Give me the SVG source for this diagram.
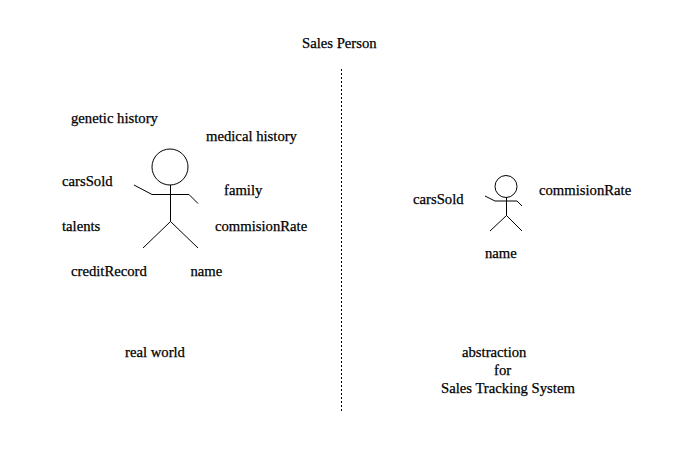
<svg xmlns="http://www.w3.org/2000/svg" width="677" height="474" viewBox="0 0 677 474">
<style>
  text { font-family: "Liberation Serif", "Times New Roman", serif; font-size: 14.7px; fill: #000; stroke: #000; stroke-width: 0.25px; }
  .fig { fill: none; stroke: #000; stroke-width: 1; }
</style>
<rect width="677" height="474" fill="#fff"/>
<g id="connectors">
  <!-- divider between the two columns -->
  <line x1="341.5" y1="69" x2="341.5" y2="411" stroke="#000" stroke-width="1" stroke-dasharray="2 2"/>
</g>
<g id="title"><text x="302" y="48">Sales Person</text></g>
<g id="real-figure">
  <circle class="fig" cx="170" cy="167" r="18"/>
  <path class="fig" d="M170.500 185V221.500M134 185L152 194.500H189L198 203.500M143 248L170.500 221.500L198 248"/>
</g>
<g id="real-labels">
  <text x="71" y="123">genetic history</text>
  <text x="206" y="141">medical history</text>
  <text x="62" y="186">carsSold</text>
  <text x="224" y="195">family</text>
  <text x="62" y="231">talents</text>
  <text x="215" y="231">commisionRate</text>
  <text x="71" y="276">creditRecord</text>
  <text x="190.500" y="276">name</text>
  <text x="125" y="357">real world</text>
</g>
<g id="abstract-figure">
  <circle class="fig" cx="506" cy="186.500" r="11"/>
  <path class="fig" d="M506.500 197.500V215.500M485 196L495 201H517L522 206M490 231L506.500 215.500L522 231"/>
</g>
<g id="abstract-labels">
  <text x="413" y="204">carsSold</text>
  <text x="539" y="195">commisionRate</text>
  <text x="485" y="258">name</text>
  <text x="462" y="357">abstraction</text>
  <text x="494" y="375">for</text>
  <text x="441" y="393">Sales Tracking System</text>
</g>
</svg>
